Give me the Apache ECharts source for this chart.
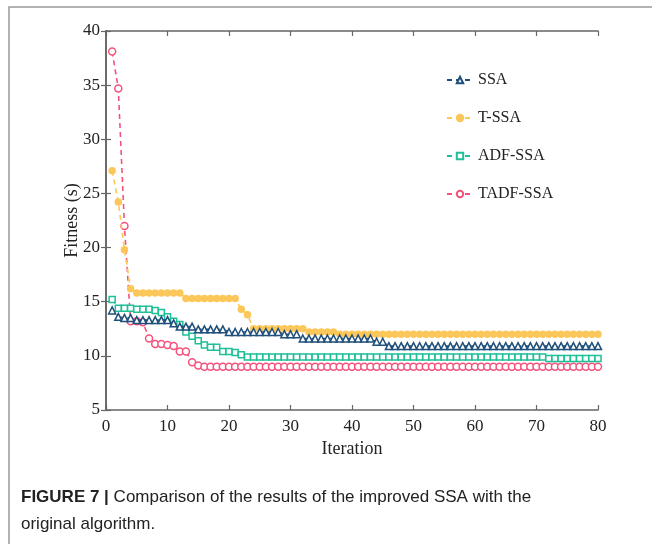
<!DOCTYPE html>
<html>
<head>
<meta charset="utf-8">
<script src="https://cdn.jsdelivr.net/npm/echarts@6/dist/echarts.min.js"></script>
<style>
  html, body { margin: 0; padding: 0; background: #fff; }
  #chart { width: 652px; height: 544px; }
</style>
</head>
<body>
<div id="chart"></div>
<script>
// fitness per iteration (1..80)
var seriesNames = ['SSA', 'T-SSA', 'ADF-SSA', 'TADF-SSA'];

var ssa = [14.2, 13.6, 13.5, 13.5, 13.3, 13.3, 13.3, 13.3, 13.3, 13.3,
  13.0, 12.7, 12.7, 12.7, 12.45, 12.45, 12.45, 12.45, 12.45, 12.2,
  12.2, 12.2, 12.2, 12.2, 12.2, 12.2, 12.2, 12.2, 12.0, 12.0,
  12.0, 11.6, 11.6, 11.6, 11.6, 11.6, 11.6, 11.6, 11.6, 11.6,
  11.6, 11.6, 11.6, 11.3, 11.3, 10.9, 10.9, 10.9, 10.9, 10.9,
  10.9, 10.9, 10.9, 10.9, 10.9, 10.9, 10.9, 10.9, 10.9, 10.9,
  10.9, 10.9, 10.9, 10.9, 10.9, 10.9, 10.9, 10.9, 10.9, 10.9,
  10.9, 10.9, 10.9, 10.9, 10.9, 10.9, 10.9, 10.9, 10.9, 10.9];

var tssa = [27.1, 24.2, 19.8, 16.2, 15.8, 15.8, 15.8, 15.8, 15.8, 15.8,
  15.8, 15.8, 15.3, 15.3, 15.3, 15.3, 15.3, 15.3, 15.3, 15.3,
  15.3, 14.3, 13.8, 12.5, 12.5, 12.5, 12.5, 12.5, 12.5, 12.5,
  12.5, 12.5, 12.2, 12.2, 12.2, 12.2, 12.2, 12.0, 12.0, 12.0,
  12.0, 12.0, 12.0, 12.0, 12.0, 12.0, 12.0, 12.0, 12.0, 12.0,
  12.0, 12.0, 12.0, 12.0, 12.0, 12.0, 12.0, 12.0, 12.0, 12.0,
  12.0, 12.0, 12.0, 12.0, 12.0, 12.0, 12.0, 12.0, 12.0, 12.0,
  12.0, 12.0, 12.0, 12.0, 12.0, 12.0, 12.0, 12.0, 12.0, 12.0];

var adfssa = [15.2, 14.4, 14.4, 14.4, 14.3, 14.3, 14.3, 14.2, 14.0, 13.6,
  13.2, 12.9, 12.2, 11.8, 11.4, 11.0, 10.8, 10.8, 10.4, 10.4,
  10.3, 10.1, 9.9, 9.9, 9.9, 9.9, 9.9, 9.9, 9.9, 9.9,
  9.9, 9.9, 9.9, 9.9, 9.9, 9.9, 9.9, 9.9, 9.9, 9.9,
  9.9, 9.9, 9.9, 9.9, 9.9, 9.9, 9.9, 9.9, 9.9, 9.9,
  9.9, 9.9, 9.9, 9.9, 9.9, 9.9, 9.9, 9.9, 9.9, 9.9,
  9.9, 9.9, 9.9, 9.9, 9.9, 9.9, 9.9, 9.9, 9.9, 9.9,
  9.9, 9.75, 9.75, 9.75, 9.75, 9.75, 9.75, 9.75, 9.75, 9.75];

var tadfssa = [38.1, 34.7, 22.0, 13.2, 13.2, 13.1, 11.6, 11.1, 11.1, 11.0,
  10.9, 10.4, 10.4, 9.4, 9.1, 9.0, 9.0, 9.0, 9.0, 9.0,
  9.0, 9.0, 9.0, 9.0, 9.0, 9.0, 9.0, 9.0, 9.0, 9.0,
  9.0, 9.0, 9.0, 9.0, 9.0, 9.0, 9.0, 9.0, 9.0, 9.0,
  9.0, 9.0, 9.0, 9.0, 9.0, 9.0, 9.0, 9.0, 9.0, 9.0,
  9.0, 9.0, 9.0, 9.0, 9.0, 9.0, 9.0, 9.0, 9.0, 9.0,
  9.0, 9.0, 9.0, 9.0, 9.0, 9.0, 9.0, 9.0, 9.0, 9.0,
  9.0, 9.0, 9.0, 9.0, 9.0, 9.0, 9.0, 9.0, 9.0, 9.0];

var xTicks = [0, 10, 20, 30, 40, 50, 60, 70, 80];
var yTicks = [5, 10, 15, 20, 25, 30, 35, 40];

var chart = echarts.init(document.getElementById('chart'));
var serif = 'Liberation Serif';

function toPairs(arr) {
  return arr.map(function (v, i) { return [i + 1, v]; });
}

var styles = [
  { color: '#1f4f7a', symbol: 'triangle', size: 7, fill: '#ffffff' },
  { color: '#fcc75a', symbol: 'circle', size: 6, fill: '#fcc75a' },
  { color: '#1fbf98', symbol: 'rect', size: 6, fill: '#ffffff' },
  { color: '#f4527c', symbol: 'circle', size: 7, fill: '#ffffff' }
];
var allData = [ssa, tssa, adfssa, tadfssa];

var series = allData.map(function (arr, k) {
  var s = styles[k];
  return {
    name: seriesNames[k],
    type: 'line',
    data: toPairs(arr),
    symbol: s.symbol,
    symbolSize: s.size,
    showAllSymbol: true,
    z: 10 - k,
    lineStyle: { color: s.color, width: 1.6, type: [5, 4] },
    itemStyle: { color: s.fill, borderColor: s.color, borderWidth: 1.5 }
  };
});

var axisLine = { show: true, lineStyle: { color: '#666', width: 1.6 } };
var tickStyle = { show: true, inside: true, length: 5, lineStyle: { color: '#666', width: 1.2 } };

var option = {
  animation: false,
  backgroundColor: '#fff',
  grid: { left: 106, right: 54, top: 31, bottom: 134 },
  legend: {
    orient: 'vertical',
    left: 441,
    top: 67,
    itemGap: 22,
    itemWidth: 26,
    itemHeight: 8,
    data: seriesNames,
    textStyle: { fontFamily: serif, fontSize: 16, color: '#222' }
  },
  xAxis: [{
    type: 'value', min: 0, max: 80, interval: 10,
    name: 'Iteration', nameLocation: 'middle', nameGap: 28,
    nameTextStyle: { fontFamily: serif, fontSize: 18, color: '#222' },
    axisLine: axisLine, axisTick: tickStyle,
    axisLabel: { fontFamily: serif, fontSize: 17, color: '#222', margin: 8 },
    splitLine: { show: false }
  }, {
    type: 'value', min: 0, max: 80, interval: 10, position: 'top',
    axisLine: axisLine, axisTick: tickStyle, axisLabel: { show: false }, splitLine: { show: false }
  }],
  yAxis: [{
    type: 'value', min: 5, max: 40, interval: 5,
    name: 'Fitness (s)', nameLocation: 'middle', nameGap: 25, nameRotate: 90,
    nameMoveOverlap: false,
    nameTextStyle: { fontFamily: serif, fontSize: 18, color: '#222' },
    axisLine: axisLine, axisTick: tickStyle,
    axisLabel: { fontFamily: serif, fontSize: 17, color: '#222', margin: 6 },
    splitLine: { show: false }
  }, {
    type: 'value', min: 5, max: 40, interval: 5, position: 'right',
    axisLine: axisLine, axisTick: tickStyle, axisLabel: { show: false }, splitLine: { show: false }
  }],
  series: series,
  graphic: [{
    type: 'rect',
    shape: { x: 9, y: 7, width: 700, height: 600 },
    style: { fill: 'none', stroke: '#999', lineWidth: 1.5 },
    silent: true
  }, {
    type: 'text',
    left: 21, top: 484,
    style: {
      text: '{b|FIGURE 7 |} Comparison of the results of the improved SSA with the\noriginal algorithm.',
      font: '17px "Liberation Sans"',
      fill: '#222',
      lineHeight: 27,
      rich: {
        b: { fontWeight: 'bold', fontFamily: 'Liberation Sans', fontSize: 17, fill: '#222' }
      }
    }
  }]
};

chart.setOption(option);
</script>
</body>
</html>
